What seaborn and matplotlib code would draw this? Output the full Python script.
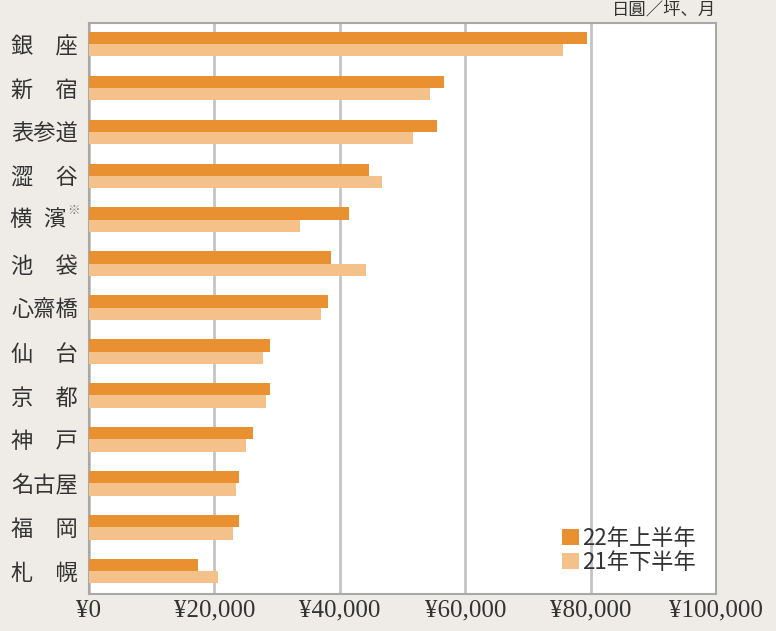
import pandas as pd
import numpy as np
import matplotlib
matplotlib.use("Agg")
import matplotlib.pyplot as plt
import seaborn as sns

# data (yen / tsubo / month)
cities = ["銀　座", "新　宿", "表参道", "澀　谷", "横濱", "池　袋", "心齋橋",
          "仙　台", "京　都", "神　戸", "名古屋", "福　岡", "札　幌"]
h1_2022 = [79500, 56600, 55500, 44600, 41400, 38600, 38100,
           28800, 28800, 26100, 24000, 24000, 17400]
h2_2021 = [75600, 54400, 51700, 46800, 33700, 44100, 37000,
           27800, 28200, 25000, 23400, 22900, 20600]
series = ["22年上半年", "21年下半年"]
xticks = [0, 20000, 40000, 60000, 80000, 100000]
xtick_labels = ["¥0", "¥20,000", "¥40,000", "¥60,000", "¥80,000", "¥100,000"]
unit = "日圓／坪、月"

df = pd.DataFrame({
    "city": cities * 2,
    "rent": h1_2022 + h2_2021,
    "period": [series[0]] * len(cities) + [series[1]] * len(cities),
})

sns.set_style("white")
plt.rcParams['font.family'] = ['Noto Sans CJK JP', 'DejaVu Sans']

bg = "#efece7"
colors = {series[0]: "#e99131", series[1]: "#f3c189"}

fig = plt.figure(figsize=(7.76, 6.31), dpi=100, facecolor=bg)
ax = fig.add_axes([89/776, 37/631, 627/776, 571/631])
ax.set_facecolor("white")

sns.barplot(data=df, x="rent", y="city", hue="period", order=cities,
            hue_order=series, palette=colors, orient="h", width=0.56,
            saturation=1, edgecolor="none", ax=ax, zorder=3)

ax.set_xlim(0, 100000)
ax.set_ylim(len(cities) - 0.48, -0.48)
ax.set_xticks(xticks)
ax.set_xticklabels(xtick_labels, fontfamily="Liberation Serif", fontsize=18, color="#333333")
ax.set_xlabel("")
ax.set_ylabel("")
ax.grid(axis="x", color="#c4c4c4", linewidth=2, zorder=0)
ax.grid(axis="y", visible=False)
ax.tick_params(axis="both", length=0)
ax.tick_params(axis="x", pad=4)
ax.tick_params(axis="y", pad=8)

labels = [c if c != "横濱" else "" for c in cities]
ax.set_yticks(range(len(cities)))
ax.set_yticklabels(labels, fontsize=16, color="#333333")

# 横濱 with the superscript mark
i = cities.index("横濱")
ax.annotate("横", xy=(0, i), xycoords=("axes fraction", "data"),
            xytext=(-57, 0), textcoords="offset pixels", ha="right", va="center",
            fontsize=16, color="#333333")
ax.annotate("濱", xy=(0, i), xycoords=("axes fraction", "data"),
            xytext=(-24, 0), textcoords="offset pixels", ha="right", va="center",
            fontsize=16, color="#333333")
ax.annotate("※", xy=(0, i), xycoords=("axes fraction", "data"),
            xytext=(-9, 3), textcoords="offset pixels", ha="right", va="bottom",
            fontsize=9, color="#777777")

for s in ax.spines.values():
    s.set_color("#a8a8a8")
    s.set_linewidth(1.5)

fig.text(716/776, 1 - 0.5/631, unit, ha="right", va="top",
         fontsize=12.5, color="#333333")

leg = ax.legend(loc="lower right", frameon=False, fontsize=16,
                handlelength=0.75, handleheight=0.75, handletextpad=0.15,
                labelspacing=0.05, borderaxespad=0.5)
for t in leg.get_texts():
    t.set_color("#333333")

fig.savefig("out.png", dpi=100, facecolor=bg)
